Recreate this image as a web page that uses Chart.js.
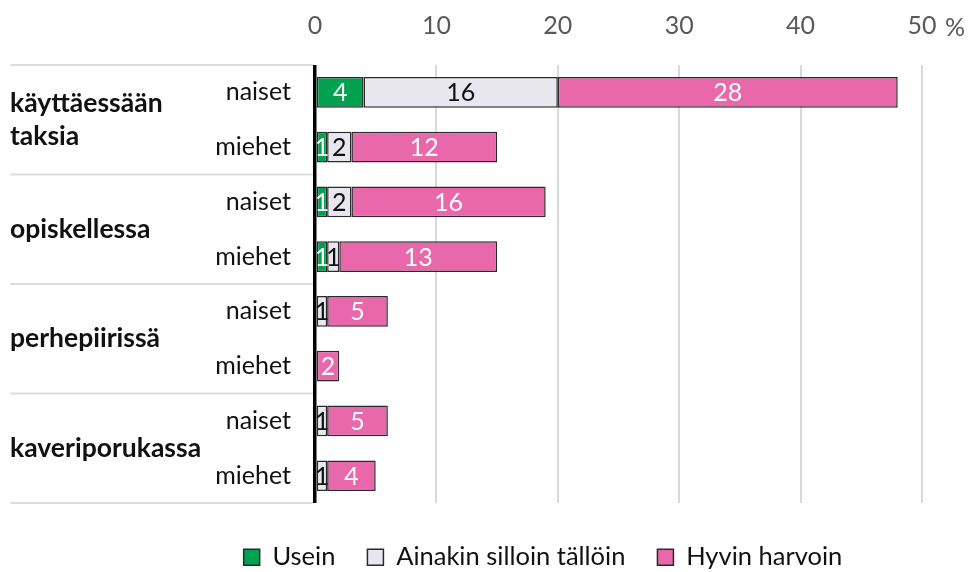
<!DOCTYPE html>
<html>
<head>
<meta charset="utf-8">
<script src="https://cdn.jsdelivr.net/npm/chart.js@4.4.1/dist/chart.umd.min.js"></script>
<style>
  body { margin: 0; background: #fff; }
  #wrap { width: 972px; height: 572px; }
</style>
</head>
<body>
<div id="wrap"><canvas id="myChart"></canvas></div>
<script>
// data
const groups = [['käyttäessään', 'taksia'], ['opiskellessa'], ['perhepiirissä'], ['kaveriporukassa']];
const genders = ['naiset', 'miehet'];
const usein = [4, 1, 1, 1, 0, 0, 0, 0];
const silloinTalloin = [16, 2, 2, 1, 1, 0, 1, 1];
const harvoin = [28, 12, 16, 13, 5, 2, 5, 4];
const xTicks = [0, 10, 20, 30, 40, 50];

const labels = [];
groups.forEach((g, i) => genders.forEach(s => labels.push(i + ' ' + s)));

const FONT = 'Lato';

// group names + separator lines on the left
const leftLabels = {
  id: 'leftLabels',
  afterDraw(chart) {
    const ctx = chart.ctx;
    const y = chart.scales.y;
    const band = y.getPixelForValue(1) - y.getPixelForValue(0);
    ctx.save();
    ctx.strokeStyle = '#dcdcdc';
    ctx.lineWidth = 2;
    for (let i = 0; i <= groups.length; i++) {
      const yy = y.getPixelForValue(i * 2) - band / 2;
      ctx.beginPath();
      ctx.moveTo(10, yy);
      ctx.lineTo(chart.chartArea.left - 2, yy);
      ctx.stroke();
    }
    ctx.fillStyle = '#111';
    ctx.font = 'bold 26.5px ' + FONT;
    ctx.textAlign = 'left';
    ctx.textBaseline = 'middle';
    groups.forEach((g, i) => {
      const mid = (y.getPixelForValue(i * 2) + y.getPixelForValue(i * 2 + 1)) / 2;
      const lh = 33;
      g.forEach((line, k) => {
        ctx.fillText(line, 10, mid + (k - (g.length - 1) / 2) * lh);
      });
    });
    // percent sign after the last tick
    const x = chart.scales.x;
    ctx.font = '25px ' + FONT;
    ctx.fillStyle = '#595959';
    ctx.textAlign = 'center';
    ctx.fillText('%', x.getPixelForValue(50) + 33, 28);
    ctx.restore();
  }
};

// values inside the bars
const barValues = {
  id: 'barValues',
  afterDatasetsDraw(chart) {
    const ctx = chart.ctx;
    ctx.save();
    ctx.font = '25px ' + FONT;
    ctx.textAlign = 'center';
    ctx.textBaseline = 'middle';
    chart.data.datasets.forEach((ds, di) => {
      const meta = chart.getDatasetMeta(di);
      meta.data.forEach((bar, i) => {
        const v = ds.data[i];
        if (!v) return;
        ctx.fillStyle = di === 1 ? '#111' : '#fff';
        ctx.fillText(v, (bar.x + bar.base) / 2, bar.y + 1);
      });
    });
    ctx.restore();
  }
};

const ctx = document.getElementById('myChart');
const myChart = new Chart(ctx, {
  type: 'bar',
  data: {
    labels: labels,
    datasets: [
      { label: 'Usein', data: usein.map(v => v || null), backgroundColor: '#00a14f' },
      { label: 'Ainakin silloin tällöin', data: silloinTalloin.map(v => v || null), backgroundColor: '#e8e6ee' },
      { label: 'Hyvin harvoin', data: harvoin.map(v => v || null), backgroundColor: '#e868ab' }
    ]
  },
  options: {
    indexAxis: 'y',
    responsive: true,
    maintainAspectRatio: false,
    animation: false,
    categoryPercentage: 1,
    barPercentage: 0.56,
    borderColor: '#2a2a2a',
    borderWidth: 1.5,
    borderSkipped: false,
    layout: { padding: { left: 164, right: 50, top: 0, bottom: -8 } },
    scales: {
      x: {
        position: 'top',
        stacked: true,
        min: 0,
        max: 50,
        afterBuildTicks: s => { s.ticks = xTicks.map(v => ({ value: v })); },
        afterFit: s => { s.height = 65; },
        border: { display: false },
        grid: {
          drawTicks: false,
          color: c => c.tick && c.tick.value === 0 ? '#000' : '#d9d9d9',
          lineWidth: c => c.tick && c.tick.value === 0 ? 3.5 : 2
        },
        ticks: {
          padding: 24,
          color: '#595959',
          font: { family: FONT, size: 25 }
        }
      },
      y: {
        stacked: true,
        afterFit: s => { s.width = 151; },
        border: { display: false },
        grid: { display: false, drawTicks: false },
        ticks: {
          padding: 24,
          color: '#111',
          font: { family: FONT, size: 25 },
          callback: (v, i) => genders[i % 2]
        }
      }
    },
    plugins: {
      legend: {
        position: 'bottom',
        title: { display: true, text: '', font: { size: 2 }, padding: { top: 0, bottom: 7 } },
        labels: {
          boxWidth: 16,
          boxHeight: 16,
          padding: 32,
          color: '#111',
          font: { family: FONT, size: 25.5 }
        }
      },
      tooltip: { enabled: false }
    }
  },
  plugins: [leftLabels, barValues]
});
</script>
</body>
</html>
